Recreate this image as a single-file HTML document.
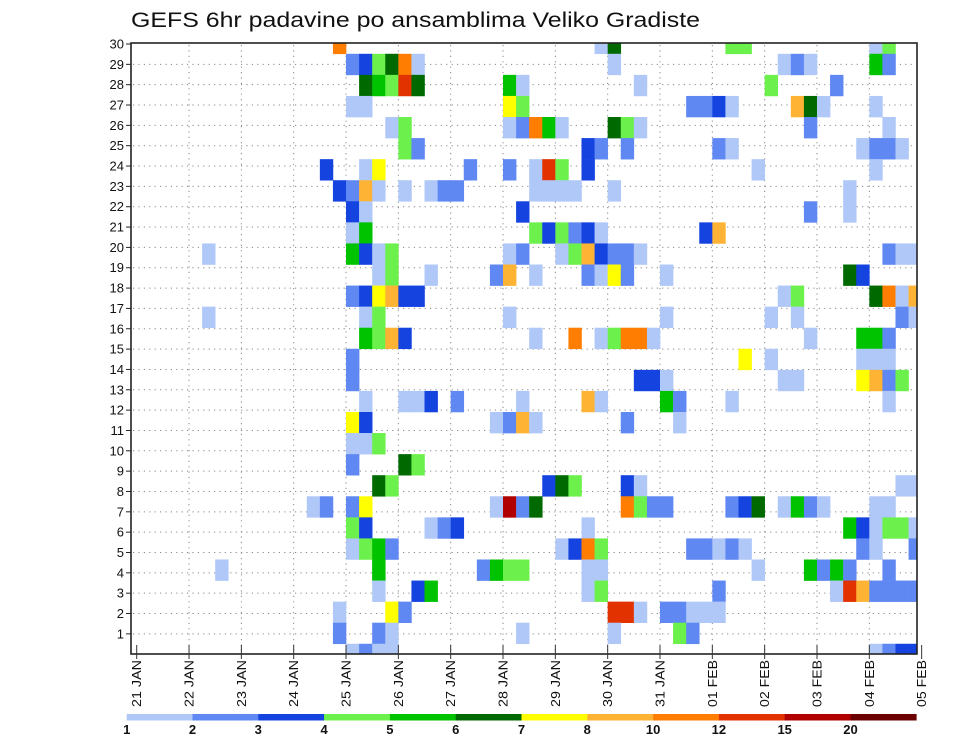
<!DOCTYPE html>
<html><head><meta charset="utf-8"><style>
html,body{margin:0;padding:0;background:#fff;}
svg{display:block;font-family:"Liberation Sans",sans-serif;}
</style></head><body>
<svg id="chart" width="960" height="742" viewBox="0 0 960 742" xmlns="http://www.w3.org/2000/svg">
<rect width="960" height="742" fill="#fff"/>
<text x="131" y="27" font-size="21" textLength="569" lengthAdjust="spacingAndGlyphs" fill="#111">GEFS 6hr padavine po ansamblima Veliko Gradiste</text>
<defs><clipPath id="plotclip"><rect x="131" y="43" width="786" height="611"/></clipPath></defs>
<g id="grid"></g>
<g id="cells" clip-path="url(#plotclip)"></g>
<rect x="131" y="43" width="786" height="611" fill="none" stroke="#222" stroke-width="1.6"/>
<g id="yaxis"></g>
<g id="xaxis"></g>
<g id="legend"></g>
</svg>
<script>
const dayLabels = ["21 JAN","22 JAN","23 JAN","24 JAN","25 JAN","26 JAN","27 JAN","28 JAN","29 JAN","30 JAN","31 JAN","01 FEB","02 FEB","03 FEB","04 FEB","05 FEB"];
const memberLabels = [1,2,3,4,5,6,7,8,9,10,11,12,13,14,15,16,17,18,19,20,21,22,23,24,25,26,27,28,29,30];
const levelLabels = ["1","2","3","4","5","6","7","8","10","12","15","20"];
const levelValues = [1,2,3,4,5,6,7,8,10,12,15,20];
const levelColors = ["#b0c8f8","#5f88f2","#1443e0","#6cf04c","#00c300","#006a00","#ffff00","#ffb334","#ff7d00","#e23200","#b00000","#6a0000"];
// cells: member index, 6-hour step index from 21 JAN 00Z, precipitation value
const cellMember = [
30,30,30,30,30,30,30,
29,29,29,29,29,29,29,29,29,29,29,29,
28,28,28,28,28,28,28,28,28,28,
27,27,27,27,27,27,27,27,27,27,27,27,
26,26,26,26,26,26,26,26,26,26,26,26,
25,25,25,25,25,25,25,25,25,25,25,
24,24,24,24,24,24,24,24,24,24,24,
23,23,23,23,23,23,23,23,23,23,23,23,23,23,
22,22,22,22,22,
21,21,21,21,21,21,21,21,21,21,
20,20,20,20,20,20,20,20,20,20,20,20,20,20,20,20,20,
19,19,19,19,19,19,19,19,19,19,19,19,19,
18,18,18,18,18,18,18,18,18,18,18,18,
17,17,17,17,17,17,17,17,17,
16,16,16,16,16,16,16,16,16,16,16,16,16,16,16,
15,15,15,15,15,15,
14,14,14,14,14,14,14,14,14,14,
13,13,13,13,13,13,13,13,13,13,13,13,
12,12,12,12,12,12,12,12,
11,11,11,
10,10,10,
9,9,9,9,9,9,9,9,9,
8,8,8,8,8,8,8,8,8,8,8,8,8,8,8,8,8,8,8,8,8,
7,7,7,7,7,7,7,7,7,7,7,7,
6,6,6,6,6,6,6,6,6,6,6,6,6,6,6,6,
5,5,5,5,5,5,5,5,5,5,5,5,5,5,5,
4,4,4,4,4,4,4,4,4,4,4,4,4,
3,3,3,3,3,3,3,3,3,3,3,
2,2,2,2,2,2,2,
1,1,1,1,1,1,1,1,1];
const cellStep = [
15,35,36,45,46,56,57,
16,17,18,19,20,21,36,49,50,51,56,57,
17,18,19,20,21,28,29,38,48,53,
16,17,28,29,42,43,44,45,50,51,52,56,
19,20,28,29,30,31,32,36,37,38,51,57,
20,21,34,35,37,44,45,55,56,57,58,
14,17,18,25,28,30,31,32,34,47,56,
15,16,17,18,20,22,23,24,30,31,32,33,36,54,
16,17,29,51,54,
16,17,30,31,32,33,34,35,43,44,
5,16,17,18,19,28,29,32,33,34,35,36,37,38,57,58,59,
18,19,22,27,28,30,34,35,36,37,40,54,55,
16,17,18,19,20,21,49,50,56,57,58,59,
5,17,18,28,40,48,50,58,59,
17,18,19,20,30,33,35,36,37,38,39,51,55,56,57,
16,46,48,55,56,57,
16,38,39,40,49,50,55,56,57,58,
17,20,21,22,24,29,34,35,40,41,45,57,
16,17,27,28,29,30,37,41,
16,17,18,
16,20,21,
18,19,31,32,33,37,38,58,59,
13,14,16,17,27,28,29,30,37,38,39,40,45,46,47,49,50,51,52,56,57,
16,17,22,23,24,34,54,55,56,57,58,59,
16,17,18,19,32,33,34,35,42,43,44,45,46,55,56,59,
6,18,26,27,28,29,34,35,47,51,52,53,54,57,
18,21,22,34,35,44,53,54,55,56,57,58,59,
18,19,20,36,37,38,40,41,42,43,44,
15,18,19,29,36,41,42,
15,16,17,18,19,56,57,58,59];
const cellValue = [
11,1.5,6.5,4.5,4.5,1.5,4.5,
2.5,3.5,4.5,6.5,11,1.5,1.5,1.5,2.5,1.5,5.5,2.5,
6.5,5.5,4.5,13,6.5,5.5,1.5,1.5,4.5,2.5,
1.5,1.5,7.5,4.5,2.5,2.5,3.5,1.5,9,6.5,1.5,1.5,
1.5,4.5,1.5,2.5,11,5.5,1.5,6.5,4.5,1.5,2.5,1.5,
4.5,2.5,3.5,2.5,2.5,2.5,1.5,1.5,2.5,2.5,1.5,
3.5,1.5,7.5,2.5,2.5,1.5,13,4.5,3.5,1.5,1.5,
3.5,2.5,9,1.5,1.5,1.5,2.5,2.5,1.5,1.5,1.5,1.5,1.5,1.5,
3.5,1.5,3.5,2.5,1.5,
1.5,5.5,4.5,3.5,4.5,2.5,3.5,1.5,3.5,9,
1.5,5.5,3.5,1.5,4.5,1.5,2.5,1.5,4.5,9,3.5,2.5,2.5,1.5,2.5,1.5,1.5,
1.5,4.5,1.5,2.5,9,1.5,2.5,1.5,7.5,2.5,1.5,6.5,3.5,
2.5,3.5,7.5,9,3.5,3.5,1.5,4.5,6.5,11,1.5,9,
1.5,1.5,4.5,1.5,1.5,1.5,1.5,2.5,1.5,
5.5,4.5,9,3.5,1.5,11,1.5,4.5,11,11,1.5,1.5,5.5,5.5,2.5,
2.5,7.5,1.5,1.5,1.5,1.5,
2.5,3.5,3.5,1.5,1.5,1.5,7.5,9,2.5,4.5,
1.5,1.5,1.5,3.5,2.5,1.5,9,1.5,5.5,2.5,1.5,1.5,
7.5,3.5,1.5,2.5,9,1.5,2.5,1.5,
1.5,1.5,4.5,
2.5,6.5,4.5,
6.5,4.5,3.5,6.5,4.5,3.5,1.5,1.5,1.5,
1.5,2.5,2.5,7.5,1.5,17,2.5,6.5,11,4.5,2.5,2.5,2.5,3.5,6.5,1.5,5.5,2.5,1.5,1.5,1.5,
4.5,3.5,1.5,2.5,3.5,1.5,5.5,3.5,1.5,4.5,4.5,1.5,
1.5,4.5,5.5,2.5,1.5,3.5,11,4.5,2.5,2.5,1.5,2.5,1.5,2.5,1.5,2.5,
1.5,4.5,2.5,5.5,4.5,4.5,1.5,1.5,1.5,5.5,2.5,5.5,2.5,2.5,
5.5,3.5,5.5,1.5,4.5,2.5,1.5,13,9,2.5,2.5,2.5,2.5,
1.5,7.5,2.5,13,13,1.5,2.5,2.5,1.5,1.5,1.5,
1.5,2.5,1.5,1.5,1.5,4.5,2.5,
2.5,1.5,2.5,1.5,1.5,1.5,2.5,3.5,3.5];

const NS = "http://www.w3.org/2000/svg";
const X0 = 136.7, DAY = 52.33, STEP = DAY/4;
const CELL_Y0 = 654.3, CELL_H = 21.07;
const LAB_Y30 = 44, LAB_DY = 20.34;
function xDay(d){ return X0 + d*DAY; }
function xStep(s){ return X0 + s*STEP; }
function yCell(m){ return CELL_Y0 - (m-1)*CELL_H; }
function yLabel(m){ return LAB_Y30 + (30-m)*LAB_DY; }
function colorFor(v){
  let idx = 0;
  for (let i=0;i<levelValues.length;i++){ if (v >= levelValues[i]) idx = i; }
  return levelColors[idx];
}
function mk(tag, attrs, parent){
  const el = document.createElementNS(NS, tag);
  for (const k in attrs) el.setAttribute(k, attrs[k]);
  parent.appendChild(el);
  return el;
}
const grid = document.getElementById('grid');
const cells = document.getElementById('cells');
const yaxis = document.getElementById('yaxis');
const xaxis = document.getElementById('xaxis');
const legend = document.getElementById('legend');

// grid
memberLabels.forEach(m => {
  if (m === 30) return;
  const y = yLabel(m);
  const ln = mk('line', {x1:133, x2:916, y1:y, y2:y, stroke:'#888', 'stroke-width':1, 'stroke-dasharray':'1.2,4.2'}, grid);
  
  
});
dayLabels.forEach((d,i) => {
  if (i === 0 || i === dayLabels.length-1) return;
  const x = xDay(i);
  const ln = mk('line', {x1:x, x2:x, y1:45, y2:653, stroke:'#888', 'stroke-width':1, 'stroke-dasharray':'1.2,4.2'}, grid);
  
  
});

// cells
for (let i=0;i<cellValue.length;i++){
  const x = xStep(cellStep[i]);
  const yc = yCell(cellMember[i]);
  const r = mk('rect', {x:x.toFixed(2), y:(yc-CELL_H/2).toFixed(2), width:(STEP+0.3).toFixed(2), height:(CELL_H+0.3).toFixed(2), fill:colorFor(cellValue[i])}, cells);
  
  
}

// y axis
memberLabels.forEach(m => {
  const y = yLabel(m);
  const t = mk('line', {x1:126, x2:131, y1:y, y2:y, stroke:'#222', 'stroke-width':1}, yaxis);
  
  
  const tx = mk('text', {x:124, y:y+4.5, 'font-size':13, 'text-anchor':'end', fill:'#111'}, yaxis);
  tx.textContent = m;
  
  
});

// x axis
dayLabels.forEach((d,i) => {
  const x = xDay(i);
  const t = mk('line', {x1:x, x2:x, y1:645, y2:659, stroke:'#333', 'stroke-width':1}, xaxis);
  
  
  const tx = mk('text', {x:0, y:0, 'font-size':13, 'text-anchor':'start', fill:'#111', transform:'translate('+(x+4.5)+',707) rotate(-90)', textLength:47, lengthAdjust:'spacingAndGlyphs'}, xaxis);
  tx.textContent = d;
  
  
});

// legend
const LX0 = 126.7, LW = 65.8;
levelColors.forEach((c,i) => {
  const r = mk('rect', {x:(LX0+i*LW).toFixed(2), y:714, width:(LW+0.3).toFixed(2), height:6.5, fill:c}, legend);
  
  
});
levelLabels.forEach((l,i) => {
  const tx = mk('text', {x:(LX0+i*LW).toFixed(2), y:734, 'font-size':13, 'font-weight':'bold', 'text-anchor':'middle', fill:'#111'}, legend);
  tx.textContent = l;
  
  
});
</script>
</body></html>
